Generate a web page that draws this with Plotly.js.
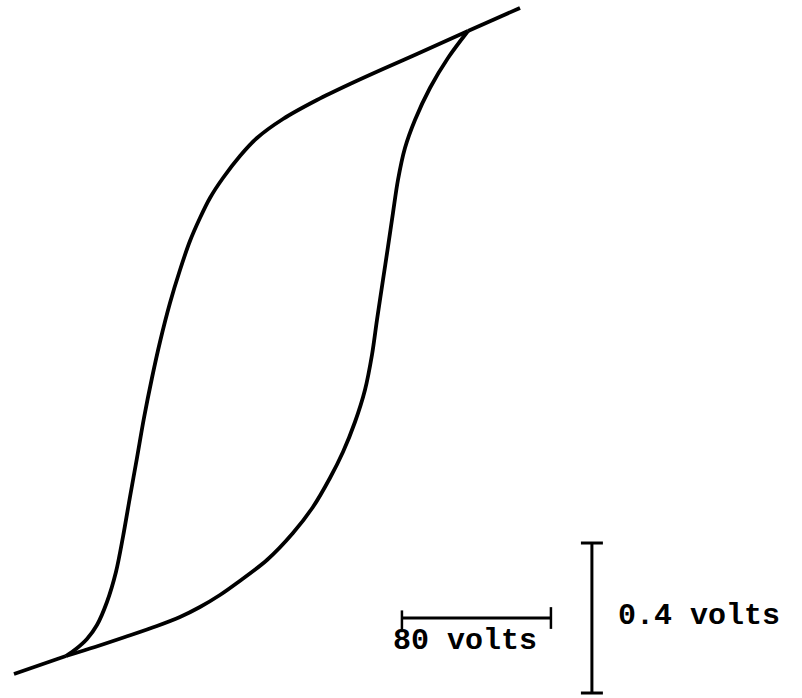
<!DOCTYPE html>
<html>
<head>
<meta charset="utf-8">
<script src="https://cdn.plot.ly/plotly-3.0.1.min.js"></script>
<style>
  html, body { margin: 0; padding: 0; background: #fff; }
  #plot { width: 802px; height: 698px; }
</style>
</head>
<body>
<div id="plot"></div>
<script>
// Hysteresis loop: horizontal = applied voltage (V), vertical = sense voltage (V)

// Falling branch: from the upper tip down the left side to the lower tip
const fallX = [108.46, 81.07, 62.82, 45.10, 27.38, 9.13, -4.83, -13.96, -23.09, -30.07, -35.44,
               -40.81, -46.17, -51.54, -56.91, -61.21, -65.50, -69.26, -73.02, -76.78, -80.54,
               -85.37, -90.74, -96.11, -102.01, -107.38];
const fallY = [0.8373, 0.7760, 0.7360, 0.6960, 0.6533, 0.6027, 0.5520, 0.5040, 0.4453, 0.3920,
               0.3387, 0.2773, 0.2000, 0.1120, 0.0080, -0.0880, -0.1947, -0.3013, -0.4053, -0.5120,
               -0.6053, -0.6853, -0.7467, -0.7840, -0.8107, -0.8293];

// Rising branch: from the lower tip along the bottom and up the right side
const riseX = [-107.38, -91.81, -75.70, -58.52, -46.17, -35.44, -24.70, -15.57, 0.54, 14.50, 25.23,
               34.36, 41.34, 47.79, 53.15, 56.91, 59.60, 62.82, 65.50, 68.19, 70.87, 74.63, 80.00,
               88.05, 97.72, 108.46];
const riseY = [-0.8293, -0.8053, -0.7787, -0.7493, -0.7253, -0.6987, -0.6667, -0.6347, -0.5733,
               -0.5013, -0.4320, -0.3547, -0.2853, -0.2053, -0.1200, -0.0267, 0.0667, 0.1733, 0.2613,
               0.3520, 0.4400, 0.5253, 0.6000, 0.6853, 0.7653, 0.8373];

// Saturation tails beyond the loop tips
const tailTopX = [108.46, 136.38];
const tailTopY = [0.8373, 0.8987];
const tailBotX = [-107.38, -135.30];
const tailBotY = [-0.8293, -0.8773];

// Scale bars
const hBarStart = 73.0, hBarLength = 80, hBarLevel = -0.728;   // 80 volts
const vBarPos = 175.0, vBarTop = -0.528, vBarLength = 0.4;       // 0.4 volts
const hBarLabel = '80 volts';
const vBarLabel = '0.4 volts';

const ink = '#000';
const loopWidth = 3.8;
const barWidth = 3;
const tickHalfY = 0.029;  // end-tick half length on the horizontal bar
const capHalfX = 5.9;     // cap half width on the vertical bar

function line(x, y, w, shape) {
  return { x, y, type: 'scatter', mode: 'lines', hoverinfo: 'skip', showlegend: false,
           line: { color: ink, width: w, shape: shape || 'linear', smoothing: 0.9 } };
}

const hEnd = hBarStart + hBarLength;
const vBot = vBarTop - vBarLength;

const traces = [
  line(fallX, fallY, loopWidth, 'spline'),
  line(riseX, riseY, loopWidth, 'spline'),
  line(tailTopX, tailTopY, loopWidth),
  line(tailBotX, tailBotY, loopWidth),
  // horizontal scale bar with end ticks
  line([hBarStart, hEnd], [hBarLevel, hBarLevel], barWidth),
  line([hBarStart, hBarStart], [hBarLevel + tickHalfY * 0.7, hBarLevel - tickHalfY * 1.3], 2.5),
  line([hEnd, hEnd], [hBarLevel + tickHalfY, hBarLevel - tickHalfY], 2.5),
  // vertical scale bar with caps
  line([vBarPos, vBarPos], [vBarTop, vBot], barWidth),
  line([vBarPos - capHalfX, vBarPos + capHalfX], [vBarTop, vBarTop], barWidth),
  line([vBarPos - capHalfX, vBarPos + capHalfX], [vBot, vBot], barWidth)
];

const font = { family: '"Courier New", "Liberation Mono", "DejaVu Sans Mono", monospace',
               size: 30, color: ink, weight: 'bold' };

const layout = {
  width: 802, height: 698,
  margin: { l: 0, r: 0, t: 0, b: 0 },
  paper_bgcolor: '#fff', plot_bgcolor: '#fff',
  xaxis: { range: [-142.8, 287.8], visible: false, fixedrange: true },
  yaxis: { range: [-0.9413, 0.92], visible: false, fixedrange: true },
  annotations: [
    { x: hBarStart + hBarLength / 2 - 6, y: hBarLevel - 0.062, xref: 'x', yref: 'y',
      text: hBarLabel, showarrow: false, font, xanchor: 'center', yanchor: 'middle' },
    { x: vBarPos + 13, y: vBarTop - vBarLength / 2 + 0.005, xref: 'x', yref: 'y',
      text: vBarLabel, showarrow: false, font, xanchor: 'left', yanchor: 'middle' }
  ],
  showlegend: false
};

Plotly.newPlot('plot', traces, layout, { staticPlot: true, displayModeBar: false });
</script>
</body>
</html>
